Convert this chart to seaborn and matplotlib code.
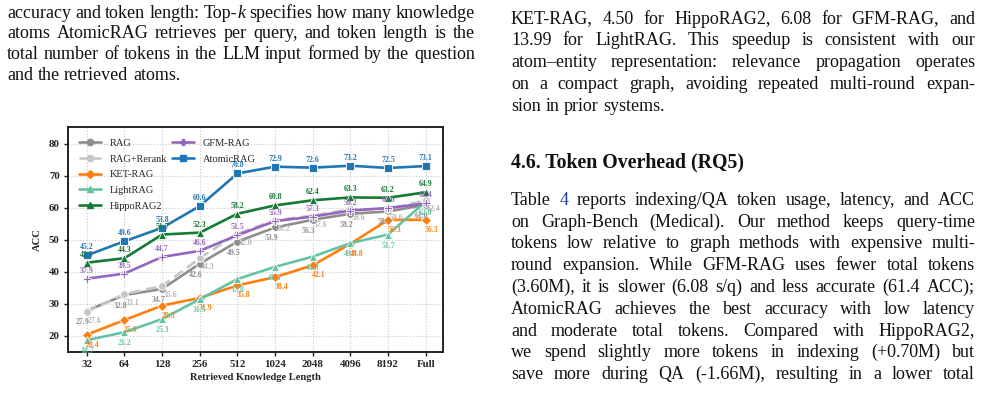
import numpy as np
import pandas as pd
import matplotlib
matplotlib.use("Agg")
import matplotlib.pyplot as plt
import seaborn as sns
from matplotlib.lines import Line2D

# ---------------- data ----------------
x_labels = ["32", "64", "128", "256", "512", "1024", "2048", "4096", "8192", "Full"]
methods = ["RAG", "RAG+Rerank", "KET-RAG", "LightRAG", "HippoRAG2", "GFM-RAG", "AtomicRAG"]
rag = [27.9, 32.8, 34.7, 42.6, 49.5, 53.9, 56.3, 58.2, 58.9, 61.0]
rag_rerank = [27.6, 33.1, 35.6, 44.3, 52.0, 56.2, 57.6, 59.6, 59.6, 62.4]
ket_rag = [20.4, 25.0, 29.5, 31.9, 35.8, 38.4, 42.1, 48.8, 56.3, 56.3]
light_rag = [18.7, 21.2, 25.3, 31.5, 37.8, 41.6, 44.8, 49.0, 51.7, 62.0]
hippo_rag2 = [42.9, 44.3, 51.7, 52.3, 58.2, 60.8, 62.4, 63.3, 63.2, 64.9]
gfm_rag = [37.9, 39.5, 44.7, 46.6, 51.5, 55.9, 57.3, 59.2, 60.0, 61.4]
atomic_rag = [45.2, 49.6, 53.8, 60.6, 70.8, 72.9, 72.6, 73.2, 72.5, 73.1]
series = [rag, rag_rerank, ket_rag, light_rag, hippo_rag2, gfm_rag, atomic_rag]

colors = {"RAG": "#8e8e8e", "RAG+Rerank": "#c6c6c6", "KET-RAG": "#ff7f0e",
          "LightRAG": "#66c2a5", "HippoRAG2": "#157a33", "GFM-RAG": "#9467bd",
          "AtomicRAG": "#1f77b4"}
label_colors = dict(colors)
label_colors["RAG+Rerank"] = "#b5b5b5"
markers = {"RAG": "o", "RAG+Rerank": "o", "KET-RAG": "D", "LightRAG": "^",
           "HippoRAG2": "^", "GFM-RAG": "P", "AtomicRAG": "s"}
dashes = {m: "" for m in methods}
dashes["RAG+Rerank"] = (4, 2)
label_off = {"RAG": (-4, -11), "RAG+Rerank": (8, -9), "KET-RAG": (6, -10),
             "LightRAG": (0, -11), "HippoRAG2": (0, 8), "GFM-RAG": (0, 8),
             "AtomicRAG": (0, 8)}

rows = []
for m, vals in zip(methods, series):
    for i, v in enumerate(vals):
        rows.append({"pos": i, "ACC": v, "method": m})
df = pd.DataFrame(rows)

# ---------------- text ----------------
left_lines = [
    [("accuracy and token length: Top-", "r"), ("k", "i"), (" specifies how many knowledge", "r")],
    [("atoms AtomicRAG retrieves per query, and token length is the", "r")],
    [("total number of tokens in the LLM input formed by the question", "r")],
    [("and the retrieved atoms.", "r")],
]
right_top_lines = [
    [("KET-RAG, 4.50 for HippoRAG2, 6.08 for GFM-RAG, and", "r")],
    [("13.99 for LightRAG. This speedup is consistent with our", "r")],
    [("atom\u2013entity representation: relevance propagation operates", "r")],
    [("on a compact graph, avoiding repeated multi-round expan-", "r")],
    [("sion in prior systems.", "r")],
]
heading = "4.6. Token Overhead (RQ5)"
para_lines = [
    [("Table ", "r"), ("4", "link"), (" reports indexing/QA token usage, latency, and ACC", "r")],
    [("on Graph-Bench (Medical). Our method keeps query-time", "r")],
    [("tokens low relative to graph methods with expensive multi-", "r")],
    [("round expansion. While GFM-RAG uses fewer total tokens", "r")],
    [("(3.60M), it is slower (6.08 s/q) and less accurate (61.4 ACC);", "r")],
    [("AtomicRAG achieves the best accuracy with low latency", "r")],
    [("and moderate total tokens. Compared with HippoRAG2,", "r")],
    [("we spend slightly more tokens in indexing (+0.70M) but", "r")],
    [("save more during QA (-1.66M), resulting in a lower total", "r")],
]

W, H = 988, 405
sns.set_theme(style="white")
plt.rcParams["font.family"] = ["Liberation Serif", "DejaVu Serif"]

fig = plt.figure(figsize=(W / 100, H / 100), dpi=100)
renderer = fig.canvas.get_renderer()


def make_styles(fs):
    return {"r": dict(fontsize=fs, color="#111111"),
            "i": dict(fontsize=fs, color="#111111", style="italic"),
            "link": dict(fontsize=fs, color="#1f3fa8")}


def measure(s, props):
    t = fig.text(0, 0, s, **props)
    w = t.get_window_extent(renderer).width
    t.remove()
    return w


def split_words(segs):
    words, cur = [], []
    for text, st in segs:
        parts = text.split(" ")
        for k, p in enumerate(parts):
            if k > 0 and cur:
                words.append(cur)
                cur = []
            if p:
                cur.append((p, st))
    if cur:
        words.append(cur)
    return words


def space_width(styles):
    return measure("x x", styles["r"]) - measure("xx", styles["r"])


def natural_width(segs, styles, space_scale=1.0):
    words = split_words(segs)
    sp = space_width(styles) * space_scale
    return sum(sum(measure(p, styles[st]) for p, st in w) for w in words) + sp * (len(words) - 1)


def draw_line(segs, x0, x1, ybase, styles, justify=True):
    words = split_words(segs)
    widths = [sum(measure(p, styles[st]) for p, st in w) for w in words]
    if justify and len(words) > 1:
        gap = ((x1 - x0) - sum(widths)) / (len(words) - 1)
    else:
        gap = space_width(styles)
    x = x0
    for w, wd in zip(words, widths):
        xx = x
        for p, st in w:
            fig.text(xx / W, 1 - ybase / H, p, va="baseline", ha="left", **styles[st])
            xx += measure(p, styles[st])
        x += wd + gap


# body font size: the densest justified line fits with slightly tightened spaces
ref_styles = make_styles(10)
just_lines = left_lines[:-1] + right_top_lines[:-1] + para_lines
ratios = [466.0 / natural_width(l, ref_styles, 0.85) for l in just_lines]
BODY = 10 * min(ratios)
styles = make_styles(BODY)

HEAD = 10 * 234.0 / measure(heading, dict(fontsize=10, weight="bold"))


def draw_block(lines, x0, x1, y0, dy, last_justified=False):
    for k, segs in enumerate(lines):
        just = (k < len(lines) - 1) or last_justified
        draw_line(segs, x0, x1, y0 + k * dy, styles, justify=just)


draw_block(left_lines, 7, 475, 17.5, 20.7)
draw_block(right_top_lines, 511, 975, 23.5, 21.8)
fig.text(511 / W, 1 - 167 / H, heading, fontsize=HEAD, weight="bold", va="baseline",
         ha="left", color="#111111")
draw_block(para_lines, 511, 975, 205, 21.75, last_justified=True)

# ---------------- chart ----------------
ax = fig.add_axes([68 / W, (H - 352) / H, (443 - 68) / W, (352 - 127) / H])
sns.lineplot(data=df, x="pos", y="ACC", hue="method", style="method",
             hue_order=methods, style_order=methods, palette=colors,
             markers=markers, dashes=dashes, markersize=5.5, linewidth=1.9,
             markeredgewidth=0.6, legend=False, sort=False, ax=ax)

for m, vals in zip(methods, series):
    dx, dy = label_off[m]
    for i, v in enumerate(vals):
        ax.annotate(f"{v:.1f}", (i, v), xytext=(dx, dy), textcoords="offset pixels",
                    ha="center", va="center", fontsize=5.6, fontweight="bold",
                    color=label_colors[m], zorder=5)

ax.set_xlim(-0.5, 9.46)
ax.set_ylim(15, 85.3)
ax.set_xticks(range(len(x_labels)))
ax.set_xticklabels(x_labels)
ax.set_yticks([20, 30, 40, 50, 60, 70, 80])
ax.grid(True, linestyle=":", color="#c8c8c8", linewidth=0.8)
ax.set_axisbelow(True)
for sp in ax.spines.values():
    sp.set_color("#222222")
    sp.set_linewidth(1.4)
ax.tick_params(axis="both", which="major", labelsize=7.8, length=3, width=1,
               color="#222222", pad=3, left=True, bottom=True)
for lab in ax.get_xticklabels() + ax.get_yticklabels():
    lab.set_fontweight("bold")
ax.set_xlabel("Retrieved Knowledge Length", fontsize=7.6, fontweight="bold", labelpad=3)
ax.set_ylabel("ACC", fontsize=7.6, fontweight="bold", labelpad=5)

handles = []
labels = []
for m in methods:
    ls = "--" if m == "RAG+Rerank" else "-"
    handles.append(Line2D([], [], color=colors[m], linestyle=ls, marker=markers[m],
                          markersize=4.5, linewidth=1.9))
    labels.append(m)
for _ in range(3):
    handles.append(Line2D([], [], linestyle="none"))
    labels.append("")
leg = ax.legend(handles, labels, ncol=2, loc="upper left", fontsize=7.5,
                frameon=False, handlelength=2.1, handletextpad=0.8,
                columnspacing=0.5, labelspacing=0.62, borderpad=0.6,
                borderaxespad=0.5)

fig.savefig("out.png", dpi=100)
